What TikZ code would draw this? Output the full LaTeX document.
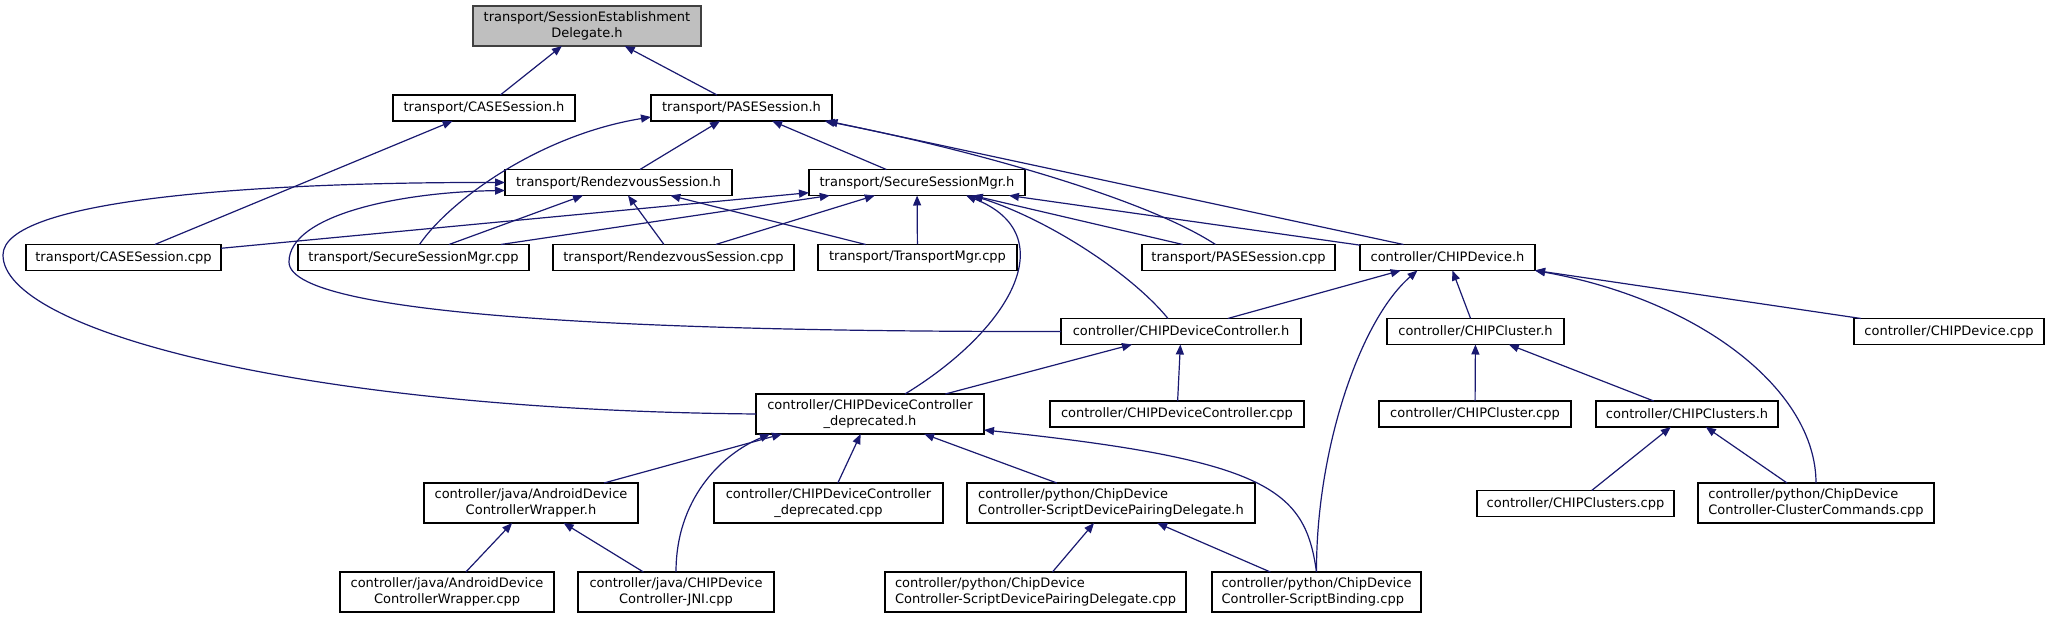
\documentclass[tikz,border=0pt]{standalone}
\usepackage{fontspec}
\setmainfont{DejaVu Sans}
\usepackage{tikz}
\usetikzlibrary{arrows.meta}
\definecolor{edgec}{HTML}{191970}
\definecolor{curfill}{HTML}{BFBFBF}
\definecolor{curdraw}{HTML}{404040}
\tikzset{
  ln/.style={-{Triangle[length=5pt,width=4pt]},line width=0.6pt,edgec},
  fbox/.style={draw=black,line width=0.6pt,fill=white,align=center,inner sep=1pt,outer sep=0pt,
    minimum height=13pt,font=\fontsize{6.5}{7.6}\selectfont},
  two/.style={minimum height=20pt},
  cur/.style={fbox,two,fill=curfill,draw=curdraw}
}

\begin{document}
\begin{tikzpicture}[x=0.5pt,y=-0.5pt]
\useasboundingbox (0,0) rectangle (2052,619);
% files, top to bottom
\node[cur,minimum width=114pt] (sed) at (587,26) {transport/SessionEstablishment\\Delegate.h};
\node[fbox,minimum width=91pt] (caseh) at (484,108) {transport/CASESession.h};
\node[fbox,minimum width=90.5pt] (paseh) at (741.5,108) {transport/PASESession.h};
\node[fbox,minimum width=113.5pt] (rdvh) at (618.5,182.5) {transport/RendezvousSession.h};
\node[fbox,minimum width=108pt] (ssmh) at (917,182.5) {transport/SecureSessionMgr.h};
\node[fbox,minimum width=97.5pt] (casecpp) at (123.5,257.5) {transport/CASESession.cpp};
\node[fbox,minimum width=115.5pt] (ssmcpp) at (413.5,257.5) {transport/SecureSessionMgr.cpp};
\node[fbox,minimum width=120.5pt] (rdvcpp) at (673.5,257.5) {transport/RendezvousSession.cpp};
\node[fbox,minimum width=99.5pt] (tmcpp) at (917.5,257.5) {transport/TransportMgr.cpp};
\node[fbox,minimum width=96.5pt] (pasecpp) at (1238.5,257.5) {transport/PASESession.cpp};
\node[fbox,minimum width=87.5pt] (devh) at (1447.5,257.5) {controller/CHIPDevice.h};
\node[fbox,minimum width=120pt] (dch) at (1181,331.5) {controller/CHIPDeviceController.h};
\node[fbox,minimum width=88.5pt] (clh) at (1475.5,331.5) {controller/CHIPCluster.h};
\node[fbox,minimum width=95pt] (devcpp) at (1949,331.5) {controller/CHIPDevice.cpp};
\node[fbox,two,minimum width=114pt] (dcdh) at (870,414) {controller/CHIPDeviceController\\\_deprecated.h};
\node[fbox,minimum width=127pt] (dccpp) at (1177,414) {controller/CHIPDeviceController.cpp};
\node[fbox,minimum width=96pt] (clcpp) at (1475,414) {controller/CHIPCluster.cpp};
\node[fbox,minimum width=91pt] (clsh) at (1687,414) {controller/CHIPClusters.h};
\node[fbox,two,minimum width=107pt] (awh) at (531,503) {controller/java/AndroidDevice\\ControllerWrapper.h};
\node[fbox,two,minimum width=114.5pt] (dcdcpp) at (828.5,503) {controller/CHIPDeviceController\\\_deprecated.cpp};
\node[fbox,two,align=left,minimum width=144pt] (pyh) at (1111,503) {controller/python/ChipDevice\\Controller-ScriptDevicePairingDelegate.h};
\node[fbox,minimum width=98.5pt] (clscpp) at (1575.5,503.5) {controller/CHIPClusters.cpp};
\node[fbox,two,align=left,minimum width=118pt] (clcmd) at (1816,503) {controller/python/ChipDevice\\Controller-ClusterCommands.cpp};
\node[fbox,two,minimum width=107pt] (awcpp) at (447,592) {controller/java/AndroidDevice\\ControllerWrapper.cpp};
\node[fbox,two,minimum width=98pt] (jni) at (676,592) {controller/java/CHIPDevice\\Controller-JNI.cpp};
\node[fbox,two,align=left,minimum width=150.5pt] (pycpp) at (1035.5,592) {controller/python/ChipDevice\\Controller-ScriptDevicePairingDelegate.cpp};
\node[fbox,two,align=left,minimum width=104.5pt] (sbcpp) at (1316.5,592) {controller/python/ChipDevice\\Controller-ScriptBinding.cpp};
% includes, straight
\draw[ln] (caseh) -- (sed);
\draw[ln] (paseh) -- (sed);
\draw[ln] (casecpp) -- (caseh);
\draw[ln] (rdvh) -- (paseh);
\draw[ln] (ssmh) -- (paseh);
\draw[ln] ([xshift=-22pt]devh.north) -- ([xshift=43pt]paseh.south);
\draw[ln] (ssmcpp) -- (rdvh);
\draw[ln] (rdvcpp) -- (rdvh);
\draw[ln] (tmcpp) -- (rdvh);
\draw[ln] (casecpp) -- (ssmh);
\draw[ln] (ssmcpp) -- (ssmh);
\draw[ln] (rdvcpp) -- (ssmh);
\draw[ln] (tmcpp) -- (ssmh);
\draw[ln] (pasecpp) -- (ssmh);
\draw[ln] (devh) -- (ssmh);
\draw[ln] (dch) -- (devh);
\draw[ln] (clh) -- (devh);
\draw[ln] (devcpp) -- (devh);
\draw[ln] (dcdh) -- (dch);
\draw[ln] (dccpp) -- (dch);
\draw[ln] (clcpp) -- (clh);
\draw[ln] (clsh) -- (clh);
\draw[ln] (clscpp) -- (clsh);
\draw[ln] (clcmd) -- (clsh);
\draw[ln] ([xshift=36.5pt]awh.north) -- ([xshift=-44pt]dcdh.south);
\draw[ln] (dcdcpp) -- (dcdh);
\draw[ln] (pyh) -- (dcdh);
\draw[ln] (awcpp) -- (awh);
\draw[ln] (jni) -- (awh);
\draw[ln] (pycpp) -- (pyh);
\draw[ln] (sbcpp) -- (pyh);
% includes, curved
\draw[ln] ([xshift=3pt]ssmcpp.north) .. controls (450,200) and (540,135) .. ([yshift=-4.5pt]paseh.west);
\draw[ln] ([xshift=-11.5pt]pasecpp.north) .. controls (1140,195) and (950,145) .. ([xshift=41.5pt]paseh.south);
\draw[ln] (dcdh.west) .. controls (300,410) and (3,330) .. (3,255) .. controls (3,200) and (250,182) .. (rdvh.west);
\draw[ln] (dch.west) .. controls (700,332) and (289,320) .. (289,262) .. controls (289,215) and (400,192) .. ([yshift=-4pt]rdvh.west);
\draw[ln] ([xshift=17.5pt]dcdh.north) .. controls (1010,330) and (1065,235) .. ([xshift=24.5pt]ssmh.south);
\draw[ln] ([xshift=-6.5pt]dch.north) .. controls (1130,272) and (1045,218) .. ([xshift=27.5pt]ssmh.south);
\draw[ln] (sbcpp.north) .. controls (1316,450) and (1360,320) .. ([xshift=-15pt]devh.south);
\draw[ln] (clcmd.north) .. controls (1816,390) and (1700,300) .. (devh.south east);
\draw[ln] (jni.north) .. controls (676,500) and (720,455) .. ([xshift=-50pt]dcdh.south);
\draw[ln] (sbcpp.north) .. controls (1305,490) and (1270,460) .. ([yshift=-8pt]dcdh.east);
\end{tikzpicture}
\end{document}
